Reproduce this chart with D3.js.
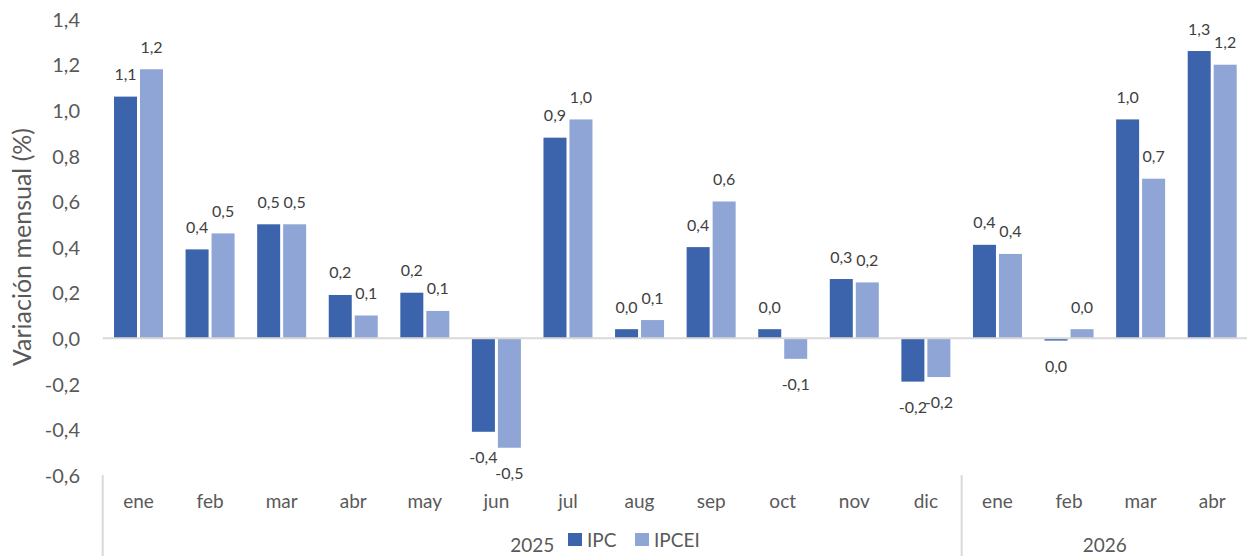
<!DOCTYPE html>
<html>
<head>
<meta charset="utf-8">
<script src="https://cdn.jsdelivr.net/npm/d3@7"></script>
<style>
  html, body { margin: 0; padding: 0; background: #ffffff; }
  svg { display: block; }
  text { font-family: Lato, "Open Sans", sans-serif; }
</style>
</head>
<body>
<svg id="chart" width="1247" height="556"></svg>
<script>
// ---- data ----
const months = ["ene","feb","mar","abr","may","jun","jul","aug","sep","oct","nov","dic","ene","feb","mar","abr"];
const years  = ["2025","2025","2025","2025","2025","2025","2025","2025","2025","2025","2025","2025","2026","2026","2026","2026"];
const yearGroups = ["2025","2026"];
const seriesNames = ["IPC","IPCEI"];
const ipc   = [1.06, 0.39, 0.50, 0.19, 0.20, -0.41, 0.88, 0.04, 0.40, 0.04, 0.26, -0.19, 0.41, -0.01, 0.96, 1.26];
const ipcei = [1.18, 0.46, 0.50, 0.10, 0.12, -0.48, 0.96, 0.08, 0.60, -0.09, 0.245, -0.17, 0.37, 0.04, 0.70, 1.20];
const yTicks = [-0.6, -0.4, -0.2, 0.0, 0.2, 0.4, 0.6, 0.8, 1.0, 1.2, 1.4];
const yTitle = "Variación mensual (%)";

// ---- style ----
const colors = {IPC: "#3c64ad", IPCEI: "#8fa5d5"};
const axisText = "#595959";
const labelText = "#404040";
const gridGrey = "#d9d9d9";

const svg = d3.select("#chart");
const W = 1247, H = 556;
const left = 102.7, right = left + 16 * 71.58;

const locale = d3.formatLocale({decimal: ",", thousands: ".", grouping: [3], currency: ["", "€"], minus: "-"});
const fmt = locale.format(".1f");

const idx = d3.range(months.length);
const x0 = d3.scaleBand().domain(idx).range([left, right]).paddingInner(0).paddingOuter(0);
const x1 = d3.scaleBand().domain(seriesNames).range([11.3, 60.3]).paddingInner(0.115);
const y = d3.scaleLinear().domain([-0.6, 1.4]).range([475.1, 19.1]);

// y axis ticks
const yAxis = d3.axisLeft(y).tickValues(yTicks).tickSize(0).tickPadding(0).tickFormat(fmt);
const gy = svg.append("g").attr("transform", "translate(80,0)").call(yAxis);
gy.select(".domain").remove();
gy.selectAll("text").attr("fill", axisText).style("font-size", "20px").style("font-family", "Lato").attr("dy", "0.36em").attr("x", 0);

// y title
svg.append("text")
  .attr("transform", `translate(31,${247}) rotate(-90)`)
  .attr("text-anchor", "middle")
  .attr("fill", axisText)
  .style("font-size", "25px")
  .text(yTitle);

// data rows
const rows = idx.map(i => ({i, IPC: ipc[i], IPCEI: ipcei[i]}));

// bars
const groups = svg.append("g").selectAll("g").data(rows).join("g")
  .attr("transform", d => `translate(${x0(d.i)},0)`);
groups.selectAll("rect").data(d => seriesNames.map(k => ({k, v: d[k]}))).join("rect")
  .attr("x", d => x1(d.k))
  .attr("width", x1.bandwidth())
  .attr("y", d => y(Math.max(0, d.v)))
  .attr("height", d => Math.abs(y(d.v) - y(0)))
  .attr("fill", d => colors[d.k]);

// zero line
svg.append("line")
  .attr("x1", left).attr("x2", W)
  .attr("y1", y(0)).attr("y2", y(0))
  .attr("stroke", gridGrey).attr("stroke-width", 2);

// value labels
groups.selectAll("text.val").data(d => seriesNames.map(k => ({k, v: d[k]}))).join("text")
  .attr("class", "val")
  .attr("x", d => x1(d.k) + x1.bandwidth() / 2)
  .attr("y", d => d.v >= 0 ? y(d.v) - 16.5 : y(d.v) + 31)
  .attr("text-anchor", "middle")
  .attr("fill", labelText)
  .style("font-size", "16px")
  .text(d => fmt(d.v));

// category labels
svg.append("g").selectAll("text").data(idx).join("text")
  .attr("x", i => x0(i) + x0.bandwidth() / 2)
  .attr("y", 508)
  .attr("text-anchor", "middle")
  .attr("fill", axisText)
  .style("font-size", "19px")
  .text(i => months[i]);

// year group separators and labels
const yearExtent = yearGroups.map(yr => {
  const ii = idx.filter(i => years[i] === yr);
  return {yr, x0: x0(ii[0]), x1: x0(ii[ii.length - 1]) + x0.bandwidth()};
});
svg.append("g").selectAll("line").data(yearExtent).join("line")
  .attr("x1", d => d.x0).attr("x2", d => d.x0)
  .attr("y1", 475).attr("y2", H)
  .attr("stroke", gridGrey).attr("stroke-width", 2);
svg.append("g").selectAll("text").data(yearExtent).join("text")
  .attr("x", d => (d.x0 + d.x1) / 2)
  .attr("y", 551.5)
  .attr("text-anchor", "middle")
  .attr("fill", axisText)
  .style("font-size", "19px")
  .text(d => d.yr);

// legend
const legendPos = [{k: "IPC", x: 568}, {k: "IPCEI", x: 635}];
const lg = svg.append("g").selectAll("g").data(legendPos).join("g")
  .attr("transform", d => `translate(${d.x},533)`);
lg.append("rect").attr("width", 14).attr("height", 13).attr("fill", d => colors[d.k]);
lg.append("text").attr("x", 19).attr("y", 13.5)
  .attr("fill", axisText).style("font-size", "19px").text(d => d.k);
</script>
</body>
</html>
